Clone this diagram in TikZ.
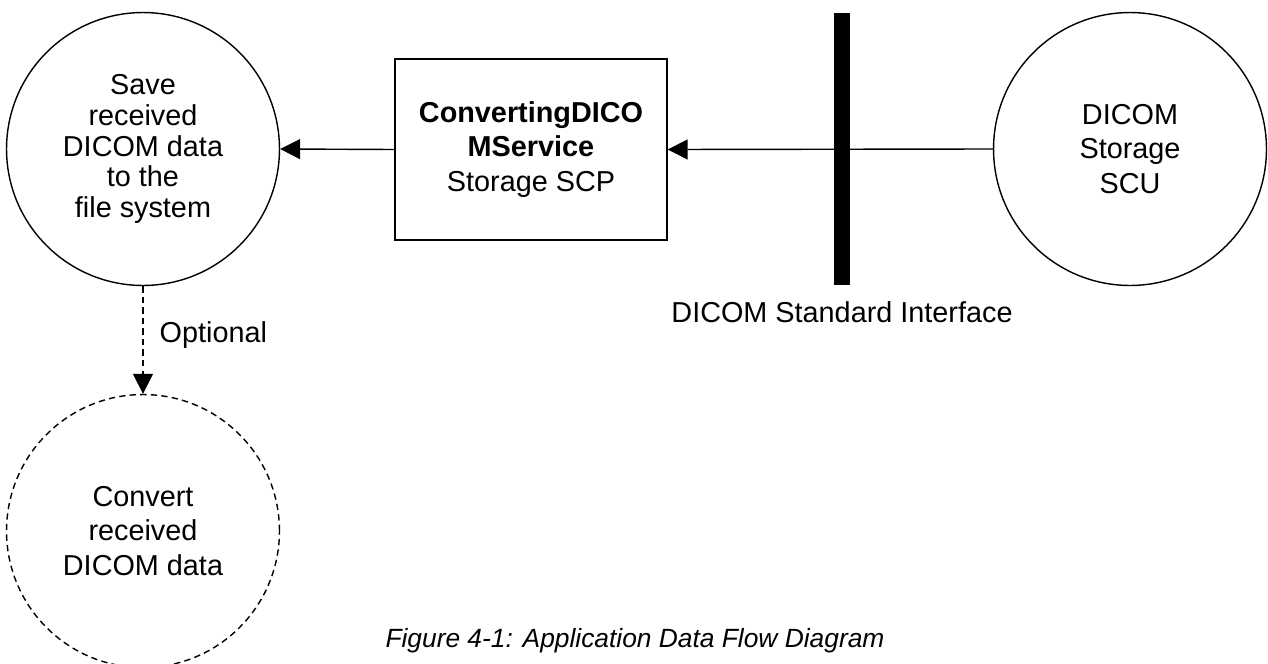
\documentclass[tikz,border=0pt]{standalone}
\usepackage{fontspec}
\setmainfont{Liberation Sans}
\usetikzlibrary{arrows.meta}
\usetikzlibrary{shapes,positioning}
\tikzset{>={Triangle[length=0.4cm,width=0.4cm]}}

\begin{document}
\begin{tikzpicture}[x=0.02cm,y=-0.02cm,line width=0.8pt,
  proc/.style={draw,circle,minimum size=5.46cm,inner sep=0pt,align=center,font=\fontsize{16.4}{19.4}\selectfont},
  optproc/.style={proc,dash pattern=on 3.6pt off 2.4pt},
  scpbox/.style={draw,rectangle,minimum width=5.44cm,minimum height=3.62cm,inner sep=0pt,align=center,font=\fontsize{16.4}{19.6}\selectfont}]
  \useasboundingbox (0,0) rectangle (1268,663);
  \clip (0,0) rectangle (1268,663);

  \node [proc,font=\fontsize{16.4}{17.6}\selectfont] (save) at (143,149) {Save\\received\\DICOM data\\to the\\file system};
  \node [scpbox] (scp) at (531,149.5) {\textbf{ConvertingDICO}\\\textbf{MService}\\Storage SCP};
  \node [proc] (scu) at (1130,149) {DICOM\\Storage\\SCU};
  \node [optproc] (conv) at (143,531) {Convert\\received\\DICOM data};

  %the interface bar
  \node [fill=black,minimum width=0.32cm,minimum height=5.44cm,inner sep=0pt] (iface) at (842,149) {};
  \node [below=0.3cm of iface,inner sep=0pt,font=\fontsize{16.4}{19.6}\selectfont] (ifacelabel) {DICOM Standard Interface};

  \draw [->] (scu.west) -- (scp.east);
  \draw [->] (scp.west) -- (save.east);
  \draw [->,dash pattern=on 3.6pt off 2.4pt] (save.south) -- node [pos=.45,right=0.32cm,inner sep=0pt,font=\fontsize{16.4}{19.6}\selectfont] (optlabel) {Optional} (conv.north);

  \node [font=\fontsize{15}{18}\selectfont\itshape] (caption) at (635,641) {Figure 4-1: Application Data Flow Diagram};
\end{tikzpicture}
\end{document}
